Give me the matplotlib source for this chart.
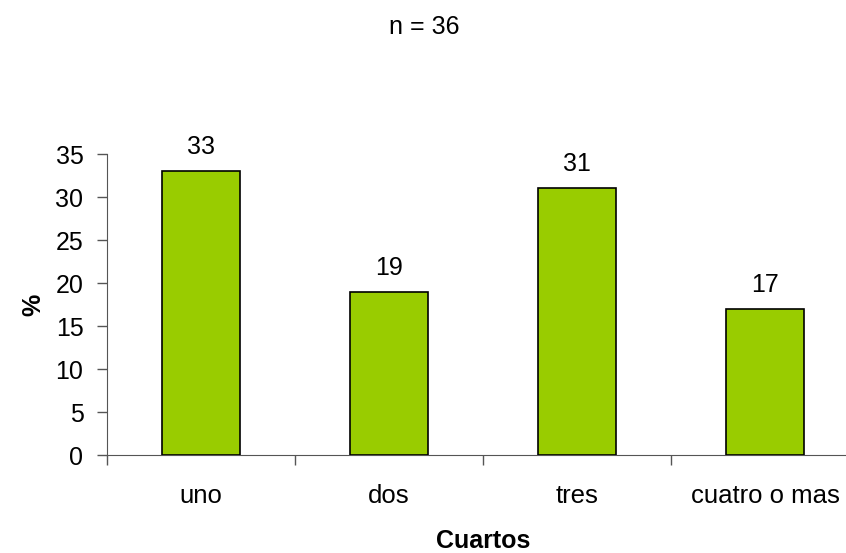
import matplotlib.pyplot as plt
import numpy as np

plt.rcParams['font.family'] = ['Liberation Sans', 'DejaVu Sans']

categorias = ['uno', 'dos', 'tres', 'cuatro o mas']
porcentajes = [33, 19, 31, 17]
n_total = 36

fig = plt.figure(figsize=(8.46, 5.53), dpi=100)
ax = fig.add_axes([0.1265, 0.1772, 0.889, 0.5443])

x = np.arange(len(categorias))
ax.bar(x, porcentajes, width=0.415, color='#99CC00', edgecolor='black', linewidth=1.2, zorder=3)

# etiquetas de valor encima de cada barra
for xi, v in zip(x, porcentajes):
    ax.text(xi, v + 1.4, str(v), ha='center', va='bottom', fontsize=18)

ax.set_xlim(-0.5, len(categorias) - 0.5)
ax.set_ylim(0, 35)
ax.set_yticks(range(0, 36, 5))
ax.set_xticks(x)
ax.set_xticklabels(categorias)
ax.set_xticks(np.arange(-0.5, len(categorias), 1.0), minor=True)
ax.tick_params(axis='x', which='major', length=0, pad=21, labelsize=18.5)
ax.tick_params(axis='x', which='minor', length=7, width=1, color='#555555')
ax.tick_params(axis='y', length=7, width=1, color='#555555', labelsize=18, pad=10)

for s in ['top', 'right']:
    ax.spines[s].set_visible(False)
ax.spines['left'].set_color('#555555')
ax.spines['bottom'].set_color('#555555')

ax.set_xlabel('Cuartos', fontsize=18, fontweight='bold', labelpad=15)
ax.set_ylabel('%', fontsize=18, fontweight='bold', labelpad=7)
fig.text(0.502, 0.951, 'n = %d' % n_total, ha='center', va='center', fontsize=18)

fig.savefig('out.png', dpi=100)
